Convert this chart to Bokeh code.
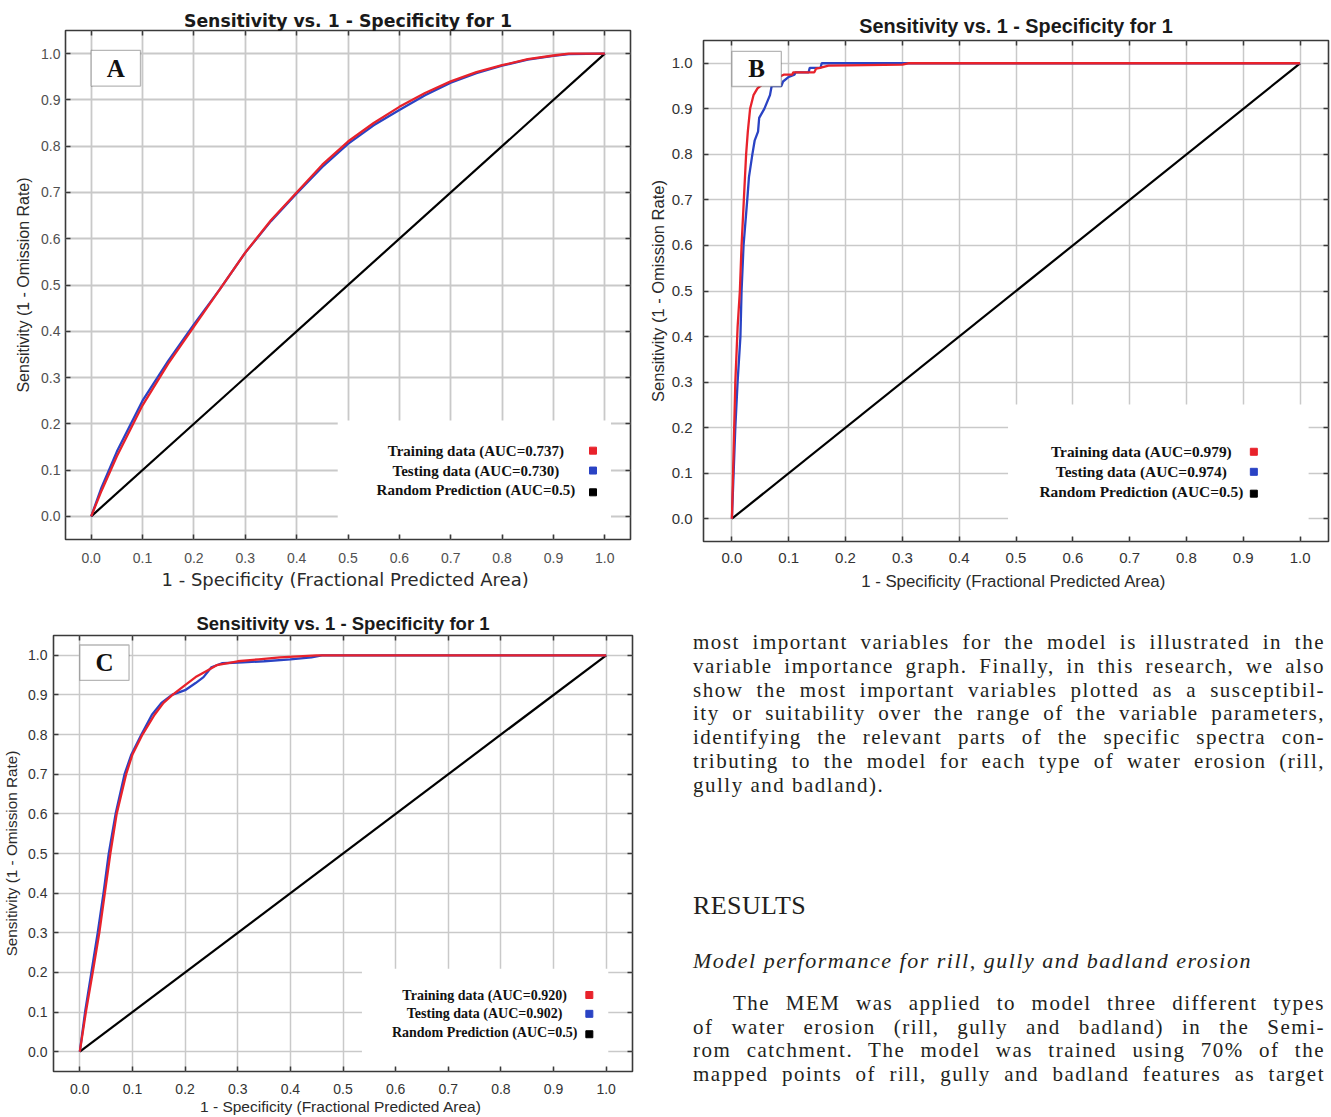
from bokeh.plotting import figure
from bokeh.models import (Range1d, FixedTicker, PrintfTickFormatter, LinearAxis,
                          BoxAnnotation, Label, Div, CustomJSTickFormatter)
from bokeh.layouts import row, column
from bokeh.embed import file_html
from bokeh.resources import INLINE

# ---------------- data ----------------
TICKS = [0.0, 0.1, 0.2, 0.3, 0.4, 0.5, 0.6, 0.7, 0.8, 0.9, 1.0]
TITLE = "Sensitivity vs. 1 - Specificity for 1"
X_LABEL = "1 - Specificity  (Fractional Predicted Area)"
Y_LABEL = "Sensitivity (1 - Omission Rate)"
RANDOM_X = [0.0, 1.0]
RANDOM_Y = [0.0, 1.0]

# Panel A (rill)
a_train_x = [0, 0.02, 0.05, 0.10, 0.15, 0.20, 0.25, 0.30, 0.35, 0.40, 0.45, 0.50, 0.55,
             0.60, 0.65, 0.70, 0.75, 0.80, 0.85, 0.90, 0.93, 1.0]
a_train_y = [0, 0.055, 0.13, 0.24, 0.33, 0.41, 0.49, 0.57, 0.64, 0.70, 0.76, 0.81, 0.85,
             0.885, 0.915, 0.94, 0.96, 0.975, 0.988, 0.996, 1.0, 1.0]
a_test_x = [0, 0.02, 0.05, 0.10, 0.15, 0.20, 0.25, 0.30, 0.35, 0.40, 0.45, 0.50, 0.55,
            0.60, 0.65, 0.70, 0.75, 0.80, 0.85, 0.90, 0.93, 1.0]
a_test_y = [0, 0.062, 0.14, 0.25, 0.336, 0.415, 0.49, 0.57, 0.638, 0.698, 0.755, 0.805, 0.845,
            0.878, 0.91, 0.937, 0.958, 0.974, 0.987, 0.995, 0.999, 1.0]
a_legend = ["Training data (AUC=0.737)", "Testing data (AUC=0.730)", "Random Prediction (AUC=0.5)"]

# Panel B (gully)
b_train_x = [0, 0.002, 0.006, 0.010, 0.014, 0.017, 0.021, 0.025, 0.028, 0.032, 0.038, 0.045,
             0.055, 0.068, 0.080, 0.091, 0.106, 0.108, 0.145, 0.148, 0.155, 0.170, 0.300, 0.310, 1.0]
b_train_y = [0, 0.10, 0.30, 0.42, 0.50, 0.60, 0.70, 0.80, 0.85, 0.90, 0.93, 0.945,
             0.955, 0.962, 0.968, 0.975, 0.975, 0.98, 0.98, 0.988, 0.99, 0.995, 0.997, 1.0, 1.0]
b_test_x = [0, 0.003, 0.006, 0.010, 0.015, 0.017, 0.0205, 0.027, 0.030, 0.036, 0.040, 0.046,
            0.048, 0.057, 0.067, 0.070, 0.087, 0.090, 0.100, 0.110, 0.112, 0.135, 0.137, 0.156, 0.158, 1.0]
b_test_y = [0, 0.10, 0.20, 0.30, 0.40, 0.50, 0.60, 0.70, 0.75, 0.80, 0.83, 0.85,
            0.88, 0.90, 0.93, 0.95, 0.95, 0.96, 0.97, 0.975, 0.98, 0.98, 0.99, 0.99, 1.0, 1.0]
b_legend = ["Training data (AUC=0.979)", "Testing data (AUC=0.974)", "Random Prediction (AUC=0.5)"]

# Panel C (badland)
c_train_x = [0, 0.0115, 0.0245, 0.037, 0.0475, 0.058, 0.070, 0.088, 0.100, 0.119, 0.142, 0.159,
             0.176, 0.200, 0.220, 0.240, 0.260, 0.300, 0.340, 0.380, 0.450, 1.0]
c_train_y = [0, 0.10, 0.20, 0.30, 0.40, 0.50, 0.60, 0.70, 0.75, 0.80, 0.85, 0.88,
             0.90, 0.925, 0.945, 0.96, 0.975, 0.985, 0.99, 0.995, 1.0, 1.0]
c_test_x = [0, 0.010, 0.022, 0.034, 0.045, 0.055, 0.068, 0.085, 0.098, 0.117, 0.137, 0.155,
            0.175, 0.200, 0.220, 0.235, 0.250, 0.270, 0.310, 0.350, 0.400, 0.440, 0.460, 1.0]
c_test_y = [0, 0.10, 0.20, 0.30, 0.40, 0.50, 0.60, 0.70, 0.75, 0.80, 0.85, 0.88,
            0.90, 0.912, 0.93, 0.945, 0.97, 0.98, 0.982, 0.985, 0.99, 0.995, 1.0, 1.0]
c_legend = ["Training data (AUC=0.920)", "Testing data (AUC=0.902)", "Random Prediction (AUC=0.5)"]

SERIES_COLORS = ["#e8222b", "#2a43c4", "#000000"]

# text column
para1 = [
    "most important variables for the model is illustrated in the",
    "variable importance graph. Finally, in this research, we also",
    "show the most important variables plotted as a susceptibil-",
    "ity or suitability over the range of the variable parameters,",
    "identifying the relevant parts of the specific spectra con-",
    "tributing to the model for each type of water erosion (rill,",
    "gully and badland).",
]
heading = "RESULTS"
subheading = "Model performance for rill, gully and badland erosion"
para2 = [
    "The MEM was applied to model three different types",
    "of water erosion (rill, gully and badland) in the Semi-",
    "rom catchment. The model was trained using 70% of the",
    "mapped points of rill, gully and badland features as target",
]


def roc_panel(cfg, tr_x, tr_y, te_x, te_y, legend_texts, letter):
    p = figure(width=cfg["w"], height=cfg["h"],
               x_range=Range1d(-0.05, 1.05), y_range=Range1d(-0.05, 1.05),
               output_backend="svg", toolbar_location=None,
               min_border_left=cfg["bl"], min_border_right=cfg["br"],
               min_border_top=cfg["bt"], min_border_bottom=cfg["bb"],
               background_fill_color="white", border_fill_color="white",
               outline_line_color="#3a3a3a", outline_line_width=1.6)
    p.title.text = TITLE
    p.title.align = "center"
    p.title.text_font = cfg["title_font"]
    p.title.text_font_size = cfg["title_size"]
    p.title.text_font_style = "bold"
    p.title.text_color = "#1a1a1a"
    p.title.standoff = cfg["title_standoff"]

    ticker = FixedTicker(ticks=TICKS)
    for ax, lab in ((p.xaxis[0], X_LABEL), (p.yaxis[0], Y_LABEL)):
        ax.ticker = ticker
        ax.formatter = PrintfTickFormatter(format="%.1f")
        ax.major_tick_in = 5
        ax.major_tick_out = 0
        ax.major_tick_line_color = "#3a3a3a"
        ax.major_tick_line_width = 1.5
        ax.minor_tick_line_color = None
        ax.axis_line_color = None
        ax.major_label_text_font = cfg["tick_font"]
        ax.major_label_text_font_size = cfg["tick_size"]
        ax.major_label_text_color = cfg["tick_color"]
        ax.axis_label = lab
        ax.axis_label_text_font_style = "normal"
        ax.axis_label_text_color = "#2a2a2a"
    p.xaxis[0].axis_label_text_font = cfg["xlabel_font"]
    p.yaxis[0].axis_label_text_font = cfg["ylabel_font"]
    p.xaxis[0].major_label_standoff = cfg["xtick_standoff"]
    p.xaxis[0].axis_label_standoff = cfg["xlabel_standoff"]
    p.xaxis[0].axis_label_text_font_size = cfg["xlabel_size"]
    p.yaxis[0].major_label_standoff = cfg["ytick_standoff"]
    p.yaxis[0].axis_label_standoff = cfg["ylabel_standoff"]
    p.yaxis[0].axis_label_text_font_size = cfg["ylabel_size"]

    for loc in ("above", "right"):
        ax = LinearAxis(ticker=ticker, formatter=CustomJSTickFormatter(code="return ''"),
                        major_tick_in=5, major_tick_out=0, major_label_standoff=0,
                        major_tick_line_color="#3a3a3a", major_tick_line_width=1.5,
                        minor_tick_line_color=None, axis_line_color=None,
                        major_label_text_font_size="1px")
        p.add_layout(ax, loc)

    p.xgrid.ticker = ticker
    p.ygrid.ticker = ticker
    p.grid.grid_line_color = "#c9c9c9"
    p.grid.grid_line_width = cfg["grid_w"]

    p.line(RANDOM_X, RANDOM_Y, line_color=SERIES_COLORS[2], line_width=2.2)
    p.line(te_x, te_y, line_color=SERIES_COLORS[1], line_width=2.3)
    p.line(tr_x, tr_y, line_color=SERIES_COLORS[0], line_width=2.3)

    # legend (white panel, centred serif text, swatches on the right)
    l, r, b, t = cfg["legend_box"]
    p.add_layout(BoxAnnotation(left=l, right=r, bottom=b, top=t, fill_color="white",
                               fill_alpha=1.0, line_color=None, level="underlay"))
    lx, ly0, dy, mx = cfg["legend_pos"]
    ys = [ly0 - i * dy for i in range(3)]
    for txt, yy in zip(legend_texts, ys):
        p.add_layout(Label(x=lx, y=yy, text=txt, text_align="center", text_baseline="middle",
                           text_font="Liberation Serif", text_font_style="bold",
                           text_font_size=cfg["legend_size"], text_color="#111111"))
    p.scatter([mx] * 3, [ys[0], ys[1], ys[2] - 0.004], marker="square", size=7,
              color=SERIES_COLORS, line_color=SERIES_COLORS)

    # panel letter
    bl_, br_, bb_, bt_ = cfg["letter_box"]
    p.add_layout(BoxAnnotation(left=bl_, right=br_, bottom=bb_, top=bt_, fill_color="white",
                               fill_alpha=1.0, line_color="#111111", line_width=1.3))
    p.add_layout(Label(x=(bl_ + br_) / 2, y=(bb_ + bt_) / 2, text=letter, text_align="center",
                       text_baseline="middle", text_font="Liberation Serif",
                       text_font_style="bold", text_font_size="25px", text_color="#111111"))
    return p


cfg_a = dict(w=645, h=595, bl=65, br=15, bt=30, bb=56,
             title_font="DejaVu Sans", title_size="17.3px", title_standoff=0,
             tick_font="Liberation Sans", tick_size="14px", tick_color="#505050",
             xlabel_font="DejaVu Sans", ylabel_font="Liberation Sans",
             xlabel_size="18px", ylabel_size="16px",
             xtick_standoff=13, xlabel_standoff=3, ytick_standoff=5, ylabel_standoff=6,
             grid_w=1.8, legend_box=(0.48, 1.012, -0.04, 0.207),
             legend_pos=(0.749, 0.142, 0.043, 0.977), legend_size="15px",
             letter_box=(0.0, 0.096, 0.93, 1.007))
cfg_b = dict(w=686, h=595, bl=55, br=3, bt=40, bb=54,
             title_font="Liberation Sans", title_size="19.8px", title_standoff=7,
             tick_font="Liberation Sans", tick_size="15px", tick_color="#333333",
             xlabel_font="Liberation Sans", ylabel_font="Liberation Sans",
             xlabel_size="16.8px", ylabel_size="16.5px",
             xtick_standoff=11, xlabel_standoff=6, ytick_standoff=11, ylabel_standoff=2,
             grid_w=1.5, legend_box=(0.486, 1.015, -0.04, 0.251),
             legend_pos=(0.7206, 0.147, 0.044, 0.9186), legend_size="15.4px",
             letter_box=(0.0, 0.087, 0.949, 1.026))
cfg_c = dict(w=645, h=522, bl=52, br=13, bt=40, bb=44,
             title_font="Liberation Sans", title_size="18.5px", title_standoff=3,
             tick_font="Liberation Sans", tick_size="14px", tick_color="#333333",
             xlabel_font="Liberation Sans", ylabel_font="Liberation Sans",
             xlabel_size="15.5px", ylabel_size="15.3px",
             xtick_standoff=12, xlabel_standoff=1, ytick_standoff=6, ylabel_standoff=5,
             grid_w=1.5, legend_box=(0.536, 1.004, -0.04, 0.209),
             legend_pos=(0.769, 0.143, 0.0475, 0.968), legend_size="14px",
             letter_box=(0.0, 0.0935, 0.937, 1.026))

pA = roc_panel(cfg_a, a_train_x, a_train_y, a_test_x, a_test_y, a_legend, "A")
pB = roc_panel(cfg_b, b_train_x, b_train_y, b_test_x, b_test_y, b_legend, "B")
pC = roc_panel(cfg_c, c_train_x, c_train_y, c_test_x, c_test_y, c_legend, "C")

# ---------------- text column ----------------
LH = 23.5
COL_LEFT = 43
COL_W = 632


def line_div(txt, top, left=COL_LEFT, width=COL_W, justify=True, extra=""):
    align = "text-align:justify;text-align-last:justify;" if justify else "text-align:left;"
    return (f'<div style="position:absolute;left:{left}px;top:{top:.1f}px;width:{width}px;'
            f'height:{LH}px;line-height:{LH}px;white-space:normal;{align}{extra}">{txt}</div>')


parts = []
for i, t in enumerate(para1):
    parts.append(line_div(t, 31 + i * 23.75, justify=(i < len(para1) - 1)))
parts.append(line_div(heading, 291, justify=False,
                      extra="font-size:26px;letter-spacing:0.4px;line-height:30px;height:30px;"))
parts.append(line_div(subheading, 349, justify=False, extra="font-style:italic;font-size:22px;"))
for i, t in enumerate(para2):
    if i == 0:
        parts.append(line_div(t, 392, left=COL_LEFT + 40, width=COL_W - 40))
    else:
        parts.append(line_div(t, 392 + i * 23.5))

html = ('<div style="position:relative;width:676px;height:522px;overflow:hidden;'
        'font-family:\'Liberation Serif\',serif;font-size:21px;letter-spacing:1.5px;'
        'color:#231f20;background:white;">' + "".join(parts) + "</div>")
text_div = Div(text=html, width=676, height=522, styles={"overflow": "hidden"})

layout = column(row(column(pA), column(pB)), row(column(pC), text_div))

open("out.html", "w").write(file_html(layout, INLINE))
